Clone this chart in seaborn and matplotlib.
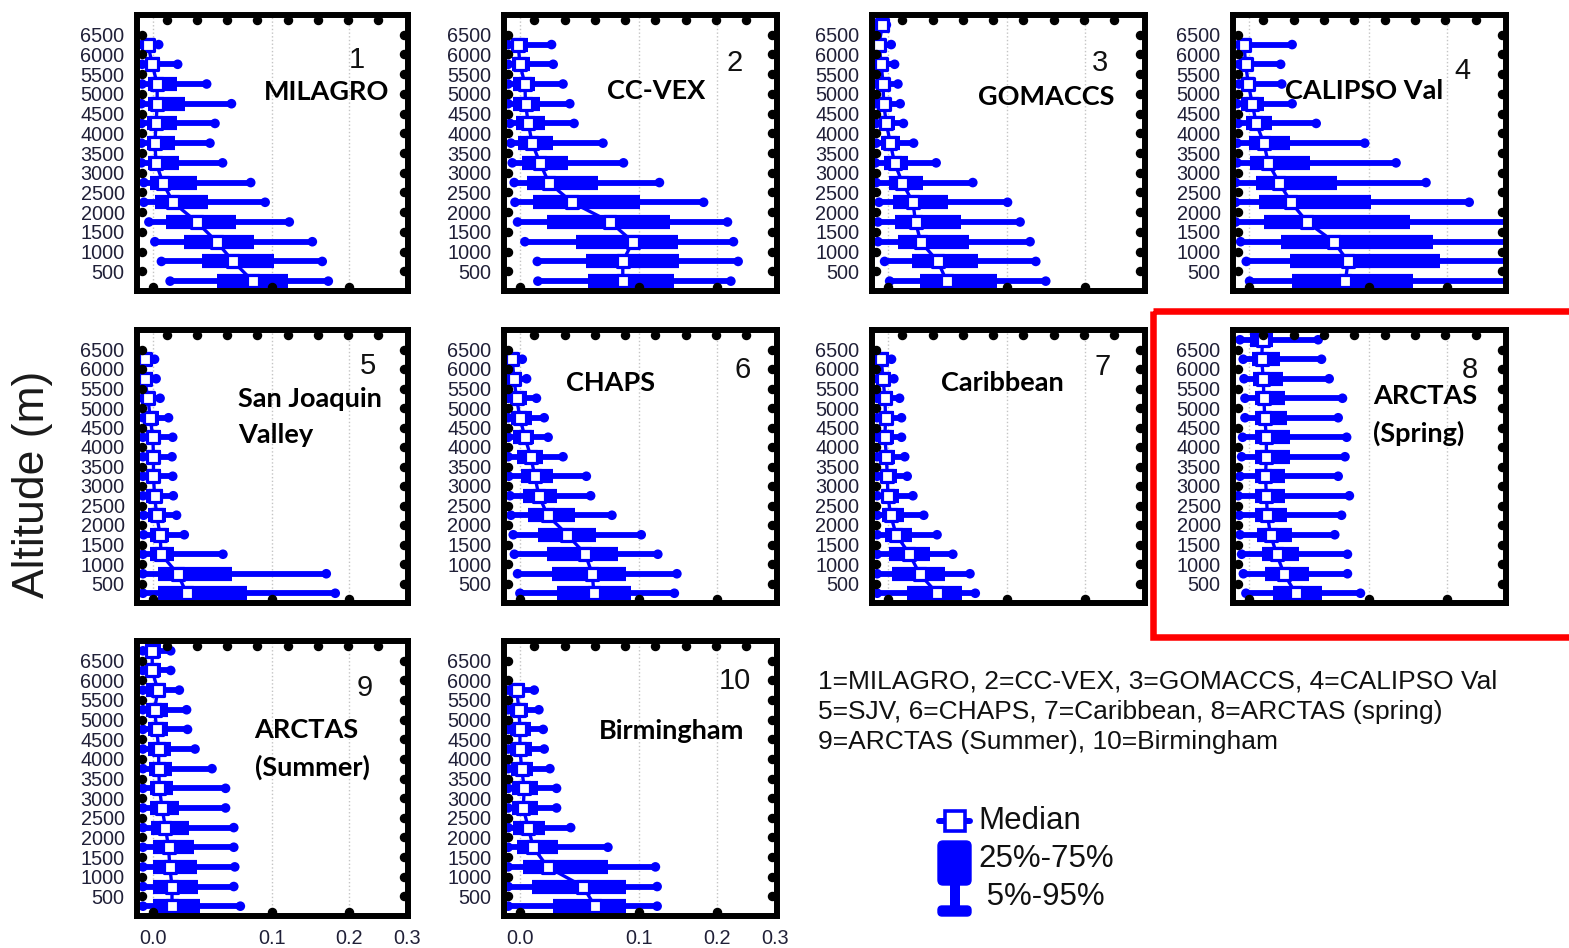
import numpy as np
import matplotlib
matplotlib.use("Agg")
import matplotlib.pyplot as plt
import seaborn as sns
from matplotlib.transforms import ScaledTranslation
from matplotlib.patches import FancyBboxPatch, Rectangle

# ---------------- data (extinction percentiles per altitude bin) ----------------
ALT_14 = [6750, 6250, 5750, 5250, 4750, 4250, 3750, 3250, 2750, 2250, 1750, 1250, 750, 250]
ALT_13 = [6250, 5750, 5250, 4750, 4250, 3750, 3250, 2750, 2250, 1750, 1250, 750, 250]
ALT_12 = [5750, 5250, 4750, 4250, 3750, 3250, 2750, 2250, 1750, 1250, 750, 250]

milagro_p05 = [-0.0067, -0.0067, -0.0067, -0.0071, -0.0071, -0.0071, -0.0071, -0.0056, -0.0056, -0.0025, 0.0013, 0.0056, 0.0115]
milagro_p25 = [-0.0056, -0.0040, -0.0031, -0.0031, -0.0035, -0.0040, -0.0031, -0.0015, 0.0017, 0.0089, 0.0216, 0.0349, 0.0472]
milagro_p50 = [-0.0031, -0.0004, 0.0028, 0.0028, 0.0021, 0.0013, 0.0021, 0.0065, 0.0135, 0.0311, 0.0472, 0.0617, 0.0805]
milagro_p75 = [0.0013, 0.0045, 0.0163, 0.0224, 0.0163, 0.0151, 0.0175, 0.0311, 0.0403, 0.0641, 0.0816, 0.1031, 0.1187]
milagro_p95 = [0.0038, 0.0168, 0.0389, 0.0602, 0.0458, 0.0416, 0.0523, 0.0784, 0.0931, 0.1199, 0.1483, 0.1614, 0.1697]

ccvex_p05 = [-0.0073, -0.0073, -0.0073, -0.0073, -0.0062, -0.0056, -0.0048, -0.0036, -0.0031, -0.0015, 0.0032, 0.0115, 0.0119]
ccvex_p25 = [-0.0052, -0.0052, -0.0042, -0.0042, -0.0027, -0.0010, 0.0015, 0.0043, 0.0087, 0.0180, 0.0408, 0.0491, 0.0505]
ccvex_p50 = [-0.0011, 0.0000, 0.0032, 0.0036, 0.0054, 0.0080, 0.0133, 0.0196, 0.0373, 0.0706, 0.0931, 0.0828, 0.0828]
ccvex_p75 = [0.0054, 0.0065, 0.0098, 0.0133, 0.0168, 0.0228, 0.0342, 0.0593, 0.1002, 0.1358, 0.1450, 0.1471, 0.1407]
ccvex_p95 = [0.0216, 0.0228, 0.0302, 0.0355, 0.0389, 0.0638, 0.0835, 0.1226, 0.1799, 0.2158, 0.2254, 0.2331, 0.2212]

gomaccs_p05 = [-0.0069, -0.0073, -0.0073, -0.0073, -0.0073, -0.0073, -0.0073, -0.0077, -0.0073, -0.0056, -0.0062, -0.0062, -0.0021, 0.0011]
gomaccs_p25 = [-0.0062, -0.0069, -0.0062, -0.0062, -0.0056, -0.0052, -0.0042, -0.0027, 0.0006, 0.0032, 0.0043, 0.0065, 0.0163, 0.0216]
gomaccs_p50 = [-0.0035, -0.0056, -0.0042, -0.0031, -0.0027, -0.0010, 0.0015, 0.0043, 0.0094, 0.0168, 0.0187, 0.0224, 0.0355, 0.0427]
gomaccs_p75 = [-0.0015, -0.0010, 0.0000, 0.0011, 0.0021, 0.0043, 0.0076, 0.0133, 0.0240, 0.0435, 0.0549, 0.0617, 0.0700, 0.0896]
gomaccs_p95 = [-0.0010, 0.0021, 0.0043, 0.0065, 0.0080, 0.0102, 0.0173, 0.0342, 0.0655, 0.1002, 0.1141, 0.1257, 0.1326, 0.1450]

calipso_p05 = [-0.0062, -0.0062, -0.0062, -0.0073, -0.0067, -0.0073, -0.0073, -0.0082, -0.0082, -0.0082, -0.0052, -0.0017, 0.0004]
calipso_p25 = [-0.0058, -0.0052, -0.0046, -0.0052, -0.0021, 0.0000, 0.0004, 0.0043, 0.0065, 0.0098, 0.0216, 0.0289, 0.0302]
calipso_p50 = [-0.0031, -0.0021, -0.0004, 0.0021, 0.0047, 0.0098, 0.0128, 0.0204, 0.0294, 0.0421, 0.0653, 0.0789, 0.0763]
calipso_p75 = [0.0011, 0.0011, 0.0032, 0.0098, 0.0156, 0.0289, 0.0441, 0.0685, 0.1021, 0.1492, 0.1794, 0.1898, 0.1522]
calipso_p95 = [0.0302, 0.0216, 0.0224, 0.0302, 0.0497, 0.0959, 0.1313, 0.1701, 0.2358, 0.3300, 0.3400, 0.3500, 0.3300]

sjv_p05 = [-0.0062, -0.0062, -0.0062, -0.0062, -0.0062, -0.0062, -0.0062, -0.0062, -0.0058, -0.0058, -0.0062, -0.0062, -0.0062]
sjv_p25 = [-0.0062, -0.0062, -0.0052, -0.0052, -0.0046, -0.0046, -0.0046, -0.0042, -0.0031, -0.0021, -0.0017, 0.0032, 0.0032]
sjv_p50 = [-0.0052, -0.0052, -0.0031, -0.0017, 0.0000, 0.0004, 0.0004, 0.0011, 0.0025, 0.0047, 0.0054, 0.0168, 0.0233]
sjv_p75 = [-0.0021, 0.0000, 0.0011, 0.0038, 0.0054, 0.0054, 0.0054, 0.0065, 0.0087, 0.0109, 0.0144, 0.0608, 0.0748]
sjv_p95 = [0.0011, 0.0021, 0.0047, 0.0104, 0.0133, 0.0128, 0.0133, 0.0137, 0.0160, 0.0216, 0.0526, 0.1669, 0.1795]

chaps_p05 = [-0.0073, -0.0073, -0.0073, -0.0073, -0.0073, -0.0073, -0.0069, -0.0062, -0.0056, -0.0042, -0.0035, -0.0015, 0.0000]
chaps_p25 = [-0.0069, -0.0069, -0.0062, -0.0056, -0.0042, -0.0021, 0.0006, 0.0021, 0.0054, 0.0119, 0.0180, 0.0221, 0.0253]
chaps_p50 = [-0.0048, -0.0038, -0.0021, 0.0000, 0.0032, 0.0071, 0.0098, 0.0126, 0.0187, 0.0336, 0.0482, 0.0542, 0.0557]
chaps_p75 = [-0.0010, 0.0011, 0.0043, 0.0076, 0.0094, 0.0156, 0.0228, 0.0253, 0.0394, 0.0578, 0.0784, 0.0862, 0.0913]
chaps_p95 = [0.0015, 0.0043, 0.0109, 0.0163, 0.0191, 0.0302, 0.0491, 0.0528, 0.0722, 0.1020, 0.1207, 0.1439, 0.1407]

carib_p05 = [-0.0067, -0.0067, -0.0067, -0.0067, -0.0067, -0.0067, -0.0067, -0.0067, -0.0067, -0.0067, -0.0067, -0.0067, -0.0067]
carib_p25 = [-0.0067, -0.0060, -0.0056, -0.0056, -0.0056, -0.0052, -0.0046, -0.0046, -0.0035, -0.0019, 0.0006, 0.0023, 0.0128]
carib_p50 = [-0.0042, -0.0031, -0.0019, -0.0015, -0.0019, -0.0010, -0.0004, 0.0000, 0.0017, 0.0054, 0.0144, 0.0216, 0.0349]
carib_p75 = [0.0006, 0.0017, 0.0032, 0.0038, 0.0038, 0.0049, 0.0060, 0.0071, 0.0104, 0.0163, 0.0298, 0.0416, 0.0557]
carib_p95 = [0.0023, 0.0038, 0.0076, 0.0089, 0.0089, 0.0111, 0.0128, 0.0168, 0.0247, 0.0349, 0.0478, 0.0629, 0.0678]

spring_p05 = [-0.0056, -0.0036, -0.0031, -0.0025, -0.0025, -0.0040, -0.0046, -0.0056, -0.0067, -0.0060, -0.0056, -0.0046, -0.0035, -0.0019]
spring_p25 = [0.0006, 0.0017, 0.0028, 0.0038, 0.0038, 0.0038, 0.0038, 0.0038, 0.0038, 0.0038, 0.0049, 0.0083, 0.0104, 0.0163]
spring_p50 = [0.0089, 0.0083, 0.0094, 0.0098, 0.0104, 0.0115, 0.0115, 0.0109, 0.0115, 0.0122, 0.0144, 0.0187, 0.0241, 0.0329]
spring_p75 = [0.0163, 0.0211, 0.0235, 0.0247, 0.0260, 0.0284, 0.0284, 0.0247, 0.0247, 0.0260, 0.0298, 0.0358, 0.0438, 0.0543]
spring_p95 = [0.0514, 0.0543, 0.0611, 0.0735, 0.0694, 0.0775, 0.0759, 0.0694, 0.0802, 0.0726, 0.0662, 0.0783, 0.0783, 0.0914]

summer_p05 = [-0.0062, -0.0062, -0.0062, -0.0062, -0.0062, -0.0062, -0.0062, -0.0062, -0.0062, -0.0062, -0.0062, -0.0062, -0.0062, -0.0062]
summer_p25 = [-0.0052, -0.0052, -0.0042, -0.0042, -0.0031, -0.0031, -0.0025, -0.0021, -0.0017, -0.0010, 0.0004, 0.0004, 0.0000, 0.0004]
summer_p50 = [-0.0004, -0.0004, 0.0032, 0.0011, 0.0025, 0.0038, 0.0038, 0.0043, 0.0060, 0.0083, 0.0104, 0.0113, 0.0128, 0.0128]
summer_p75 = [0.0054, 0.0054, 0.0087, 0.0098, 0.0098, 0.0121, 0.0128, 0.0133, 0.0180, 0.0253, 0.0289, 0.0313, 0.0320, 0.0337]
summer_p95 = [0.0119, 0.0119, 0.0180, 0.0233, 0.0240, 0.0297, 0.0433, 0.0549, 0.0549, 0.0623, 0.0623, 0.0632, 0.0623, 0.0684]

birm_p05 = [-0.0073, -0.0073, -0.0073, -0.0073, -0.0073, -0.0073, -0.0073, -0.0073, -0.0073, -0.0073, -0.0073, -0.0073]
birm_p25 = [-0.0069, -0.0062, -0.0062, -0.0062, -0.0056, -0.0048, -0.0052, -0.0042, -0.0021, 0.0021, 0.0080, 0.0228]
birm_p50 = [-0.0021, -0.0006, 0.0000, 0.0000, 0.0011, 0.0028, 0.0021, 0.0054, 0.0087, 0.0187, 0.0463, 0.0566]
birm_p75 = [0.0032, 0.0054, 0.0071, 0.0076, 0.0087, 0.0121, 0.0121, 0.0168, 0.0265, 0.0684, 0.0862, 0.0862]
birm_p95 = [0.0094, 0.0126, 0.0156, 0.0163, 0.0204, 0.0253, 0.0253, 0.0362, 0.0684, 0.1179, 0.1199, 0.1199]

panel_numbers = ["1", "2", "3", "4", "5", "6", "7", "8", "9", "10"]
panel_names = ["MILAGRO", "CC-VEX", "GOMACCS", "CALIPSO Val", "San Joaquin\nValley",
               "CHAPS", "Caribbean", "ARCTAS\n(Spring)", "ARCTAS\n(Summer)", "Birmingham"]
y_ticks = [500, 1000, 1500, 2000, 2500, 3000, 3500, 4000, 4500, 5000, 5500, 6000, 6500]
x_ticks = [0.0, 0.1, 0.2, 0.3]
x_ticklabels = ["0.0", "0.1", "0.2", "0.3"]
key_lines = ["1=MILAGRO, 2=CC-VEX, 3=GOMACCS, 4=CALIPSO Val",
             "5=SJV, 6=CHAPS, 7=Caribbean, 8=ARCTAS (spring)",
             "9=ARCTAS (Summer), 10=Birmingham"]
legend_labels = ["Median", "25%-75%", " 5%-95%"]

panels = [
    (ALT_13, milagro_p05, milagro_p25, milagro_p50, milagro_p75, milagro_p95),
    (ALT_13, ccvex_p05, ccvex_p25, ccvex_p50, ccvex_p75, ccvex_p95),
    (ALT_14, gomaccs_p05, gomaccs_p25, gomaccs_p50, gomaccs_p75, gomaccs_p95),
    (ALT_13, calipso_p05, calipso_p25, calipso_p50, calipso_p75, calipso_p95),
    (ALT_13, sjv_p05, sjv_p25, sjv_p50, sjv_p75, sjv_p95),
    (ALT_13, chaps_p05, chaps_p25, chaps_p50, chaps_p75, chaps_p95),
    (ALT_13, carib_p05, carib_p25, carib_p50, carib_p75, carib_p95),
    (ALT_14, spring_p05, spring_p25, spring_p50, spring_p75, spring_p95),
    (ALT_14, summer_p05, summer_p25, summer_p50, summer_p75, summer_p95),
    (ALT_12, birm_p05, birm_p25, birm_p50, birm_p75, birm_p95),
]

# ---------------- styling / layout ----------------
sns.set_theme(style="white")
plt.rcParams["font.family"] = ["Liberation Sans", "DejaVu Sans"]

BLUE = "#0000ff"
W, H = 1569, 948
OFF = 0.045  # inch, inward offset of frame dots
SHIFT = 0.145


def fwd(x):
    return np.log(np.maximum(np.asarray(x, dtype=float) + SHIFT, 1e-6))


def inv(y):
    return np.exp(np.asarray(y, dtype=float)) - SHIFT


fig = plt.figure(figsize=(W / 100, H / 100), dpi=100)

cols = [(137, 408), (504, 776.5), (872, 1144.5), (1233, 1506)]
rows = [(15, 291), (330, 603), (641, 916)]
grid_pos = [(0, 0), (1, 0), (2, 0), (3, 0), (0, 1), (1, 1), (2, 1), (3, 1), (0, 2), (1, 2)]

num_pos = [(0.81, 0.837), (0.848, 0.826), (0.837, 0.825), (0.84, 0.796), (0.852, 0.868),
           (0.877, 0.853), (0.847, 0.866), (0.868, 0.853), (0.841, 0.829), (0.848, 0.853)]
name_pos = [(0.70, 0.721, "center"), (0.557, 0.724, "center"), (0.641, 0.704, "center"),
            (0.479, 0.724, "center"), (0.373, 0.683, "left"), (0.389, 0.805, "center"),
            (0.477, 0.805, "center"), (0.513, 0.689, "left"), (0.434, 0.607, "left"),
            (0.615, 0.672, "center")]
top_dots = [1 / 9, 2 / 9, 3 / 9, 4 / 9, 5 / 9, 6 / 9, 7 / 9, 8 / 9]

for i, (alt, p05, p25, p50, p75, p95) in enumerate(panels):
    c, r = grid_pos[i]
    l, rr = cols[c]
    t, b = rows[r]
    ax = fig.add_axes([l / W, 1 - b / H, (rr - l) / W, (b - t) / H])
    ax.set_xscale("function", functions=(fwd, inv))

    # whiskers and boxes
    ax.hlines(alt, p05, p95, color=BLUE, lw=4.2, zorder=2)
    ax.hlines(alt, p25, p75, color=BLUE, lw=10.2, zorder=3)
    sns.scatterplot(x=list(p05) + list(p95), y=list(alt) + list(alt), ax=ax, s=48,
                    color=BLUE, edgecolor="none", zorder=3, legend=False)
    # median connector and median markers
    sns.lineplot(x=p50, y=alt, ax=ax, orient="y", estimator=None, color=BLUE,
                 lw=2.4, zorder=4, legend=False)
    sns.scatterplot(x=p50, y=alt, ax=ax, marker="s", s=66, color="white",
                    edgecolor=BLUE, linewidth=2.3, zorder=5, legend=False)

    ax.set_xlim(-0.0098, 0.3025)
    ax.set_ylim(0, 7000)
    ax.set_xticks(x_ticks)
    ax.set_yticks(y_ticks)
    ax.set_yticklabels([str(v) for v in y_ticks])
    if r == 2:
        ax.set_xticklabels(x_ticklabels)
    else:
        ax.set_xticklabels([])
    ax.tick_params(axis="both", length=0, labelsize=14.3, labelcolor="#202038")
    ax.tick_params(axis="y", pad=9)
    ax.tick_params(axis="x", pad=9)
    ax.minorticks_off()
    ax.grid(False)
    ax.grid(axis="x", linestyle=":", color="#c4c4c4", linewidth=1.0)
    ax.set_xlabel("")
    ax.set_ylabel("")
    for sp in ax.spines.values():
        sp.set_visible(True)
        sp.set_linewidth(4.3)
        sp.set_color("black")
        sp.set_capstyle("projecting")
        sp.set_zorder(7)

    # round frame dots (tick marks)
    dpi_t = fig.dpi_scale_trans
    ax.plot(np.zeros(len(y_ticks)), y_ticks, "o", color="black", ms=5.8, clip_on=False,
            transform=ax.get_yaxis_transform() + ScaledTranslation(OFF, 0, dpi_t), zorder=6)
    ax.plot(np.ones(len(y_ticks)), y_ticks, "o", color="black", ms=5.8, clip_on=False,
            transform=ax.get_yaxis_transform() + ScaledTranslation(-OFF, 0, dpi_t), zorder=6)
    ax.plot(x_ticks[:3], np.zeros(3), "o", color="black", ms=5.8, clip_on=False,
            transform=ax.get_xaxis_transform() + ScaledTranslation(0, OFF, dpi_t), zorder=6)
    ax.plot(top_dots, np.ones(len(top_dots)), "o", color="black", ms=5.8, clip_on=False,
            transform=ax.transAxes + ScaledTranslation(0, -OFF, dpi_t), zorder=6)
    ax.set_xlim(-0.0098, 0.3025)
    ax.set_ylim(0, 7000)

    nx, ny = num_pos[i]
    ax.text(nx, ny, panel_numbers[i], transform=ax.transAxes, ha="center", va="center",
            fontsize=21, color="#111111", zorder=8)
    tx, ty, ha = name_pos[i]
    ax.text(tx, ty, panel_names[i], transform=ax.transAxes, ha=ha, va="center",
            multialignment="left", fontsize=19.5, fontweight="bold",
            family=["Lato", "DejaVu Sans"], color="black", linespacing=1.6, zorder=8)

# ---------------- figure-level annotations ----------------
fig.text(33 / W, 1 - 484 / H, "Altitude (m)", rotation=90, ha="center", va="center",
         fontsize=32, color="#1a1a1a")

for k, (line, yy) in enumerate(zip(key_lines, [681, 712, 742])):
    fig.text(818 / W, 1 - yy / H, line, ha="left", va="center", fontsize=19, color="#111111")

ov = fig.add_axes([0, 0, 1, 1])
ov.set_xlim(0, W)
ov.set_ylim(H, 0)
ov.axis("off")
ov.set_zorder(20)

# red highlight frame around panel 8
ov.add_patch(Rectangle((1153, 310.5), 500, 326, fill=False, ec="#ff0000", lw=4.7,
                       clip_on=False))

# legend glyphs
ov.plot([939, 970], [821, 821], color=BLUE, lw=4.3, solid_capstyle="round")
ov.plot([954.5], [821], marker="s", ms=15, mfc="white", mec=BLUE, mew=2.6)
ov.add_patch(FancyBboxPatch((938, 841), 33, 44, boxstyle="round,pad=0,rounding_size=5",
                            fc=BLUE, ec=BLUE, lw=1))
ov.add_patch(Rectangle((950, 880), 10, 28, fc=BLUE, ec="none"))
ov.add_patch(FancyBboxPatch((938, 906), 33, 10, boxstyle="round,pad=0,rounding_size=4",
                            fc=BLUE, ec=BLUE, lw=1))
for lab, yy in zip(legend_labels, [821, 859, 897]):
    ov.text(978, yy, lab, ha="left", va="center", fontsize=22.5, color="#111111")

fig.savefig("out.png", dpi=100)
